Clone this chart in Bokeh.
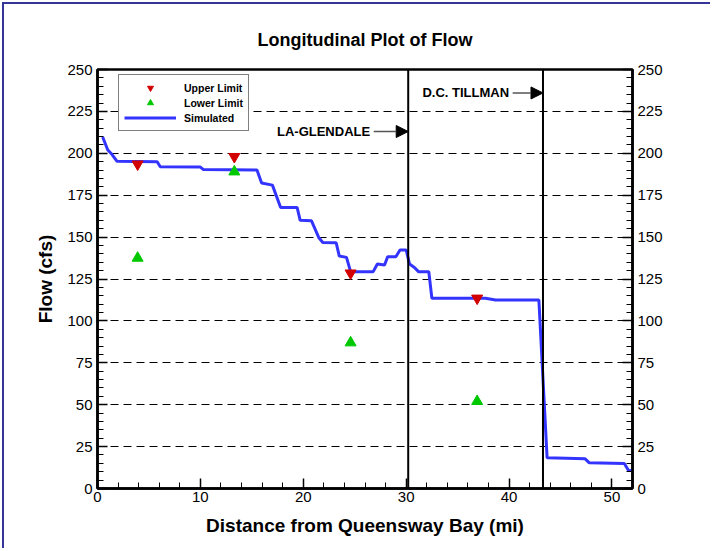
from bokeh.plotting import figure
from bokeh.models import (Range1d, LinearAxis, FixedTicker, Legend, LegendItem,
                          Span, Label, Arrow, NormalHead)
from bokeh.embed import file_html
from bokeh.resources import INLINE

# Simulated flow along the river (distance in miles, flow in cfs)
sim_miles = [0.5, 1.0, 1.4, 1.9, 5.8, 6.1, 10.0, 10.3, 15.5, 15.95, 17.0, 17.8,
             19.4, 19.7, 20.8, 21.5, 21.9, 23.2, 23.5, 24.2, 24.6, 26.8, 27.2,
             27.9, 28.2, 29.0, 29.4, 30.0, 30.33, 30.8, 31.2, 32.2, 32.5, 37.7,
             38.7, 42.9, 43.7, 47.4, 47.8, 51.2, 51.6, 52.0]
sim_flow = [209.7, 202.0, 199.4, 195.2, 195.0, 192.0, 191.8, 190.3, 190.0, 182.3,
            181.0, 167.7, 167.7, 160.0, 159.7, 149.8, 146.8, 146.6, 138.7, 137.9,
            129.4, 129.4, 133.9, 133.3, 138.3, 138.3, 142.3, 142.3, 133.9, 131.9,
            129.4, 129.4, 113.5, 113.5, 112.5, 112.5, 18.3, 17.7, 15.3, 14.9,
            10.9, 10.7]

# Observed limits at the monitoring locations
limit_miles = [3.9, 13.3, 24.6, 36.9]
upper_limit = [193.5, 198.0, 128.5, 113.5]
lower_limit = [137.5, 189.0, 87.0, 52.0]

# Treatment plant outfalls
station_names = ["LA-GLENDALE", "D.C. TILLMAN"]
station_miles = [30.2, 43.3]
station_label_flow = [213.0, 236.0]
station_label_miles = [26.5, 40.0]

x_ticks = [0, 10, 20, 30, 40, 50]
x_minor = [m for m in range(0, 53, 2)]
y_ticks = [0, 25, 50, 75, 100, 125, 150, 175, 200, 225, 250]
y_minor = [m for m in range(0, 251, 5)]
grid_levels = [25, 50, 75, 100, 125, 150, 175, 200, 225]

FONT = "Liberation Sans"

p = figure(width=708, height=546, x_range=Range1d(0, 52), y_range=Range1d(0, 250),
           output_backend="svg", toolbar_location=None,
           x_axis_location=None, y_axis_location=None,
           min_border_left=93, min_border_right=80, min_border_top=65,
           min_border_bottom=62)
p.styles = {"border-top": "2px solid #34349a", "border-left": "2px solid #34349a",
            "margin-left": "2px", "margin-top": "2px"}

p.title.text = "Longitudinal Plot of Flow"
p.title.text_font = FONT
p.title.text_font_size = "18px"
p.title.text_font_style = "bold"
p.title.text_color = "black"
p.title.align = "center"
p.title.standoff = 40

p.outline_line_color = "black"
p.outline_line_width = 2.5
p.xgrid.visible = False
p.ygrid.ticker = FixedTicker(ticks=grid_levels)
p.ygrid.grid_line_color = "black"
p.ygrid.grid_line_dash = "8 5"
p.ygrid.grid_line_width = 1


def style_axis(ax):
    ax.axis_line_width = 2.5
    ax.axis_line_color = "black"
    ax.major_tick_in = 10
    ax.major_tick_out = 0
    ax.minor_tick_in = 6
    ax.minor_tick_out = 0
    ax.major_tick_line_width = 1.5
    ax.minor_tick_line_width = 1
    ax.major_label_text_font = FONT
    ax.major_label_text_font_size = "15px"
    ax.major_label_text_color = "black"
    ax.axis_label_text_font = FONT
    ax.axis_label_text_font_size = "19px"
    ax.axis_label_text_font_style = "bold"
    ax.axis_label_text_color = "black"


xb = LinearAxis(ticker=FixedTicker(ticks=x_ticks, minor_ticks=x_minor),
                axis_label="Distance from Queensway Bay (mi)")
style_axis(xb)
xb.major_label_standoff = 3
xb.axis_label_standoff = 10
p.add_layout(xb, "below")

yl = LinearAxis(ticker=FixedTicker(ticks=y_ticks, minor_ticks=y_minor),
                axis_label="Flow (cfs)")
style_axis(yl)
yl.major_label_standoff = 5
yl.axis_label_standoff = 8
p.add_layout(yl, "left")

yr = LinearAxis(ticker=FixedTicker(ticks=y_ticks, minor_ticks=y_minor))
style_axis(yr)
yr.major_label_standoff = 5
p.add_layout(yr, "right")

for m in station_miles:
    p.add_layout(Span(location=m, dimension="height", line_color="black",
                      line_width=2))

sim = p.line(sim_miles, sim_flow, line_color="#3434ff", line_width=3)
up = p.scatter(limit_miles, upper_limit, marker="inverted_triangle", size=11,
               fill_color="#d20000", line_color="#d20000")
lo = p.scatter(limit_miles, lower_limit, marker="triangle", size=11,
               fill_color="#00c800", line_color="#00c800")

for name, mx, lx, ly in zip(station_names, station_miles, station_label_miles,
                            station_label_flow):
    p.add_layout(Label(x=lx, y=ly, text=name, text_font=FONT,
                       text_font_size="13px", text_font_style="bold",
                       text_color="black",
                       text_align="right", text_baseline="middle"))
    p.add_layout(Arrow(x_start=lx + 0.35, y_start=ly, x_end=mx, y_end=ly,
                       line_color="#555555", line_width=1.5,
                       end=NormalHead(size=12, fill_color="black",
                                      line_color="black")))

legend = Legend(items=[LegendItem(label="Upper Limit", renderers=[up]),
                       LegendItem(label="Lower Limit", renderers=[lo]),
                       LegendItem(label="Simulated", renderers=[sim])],
                location=(21, 357), orientation="vertical",
                glyph_width=52, glyph_height=15, spacing=0, padding=5,
                margin=0, label_standoff=8, label_height=13,
                label_text_font=FONT, label_text_font_size="10.5px",
                label_text_font_style="bold", label_text_color="black",
                border_line_color="black", border_line_width=1,
                background_fill_color="white", background_fill_alpha=1.0)
p.add_layout(legend, "center")

open("out.html", "w").write(file_html(p, INLINE))
